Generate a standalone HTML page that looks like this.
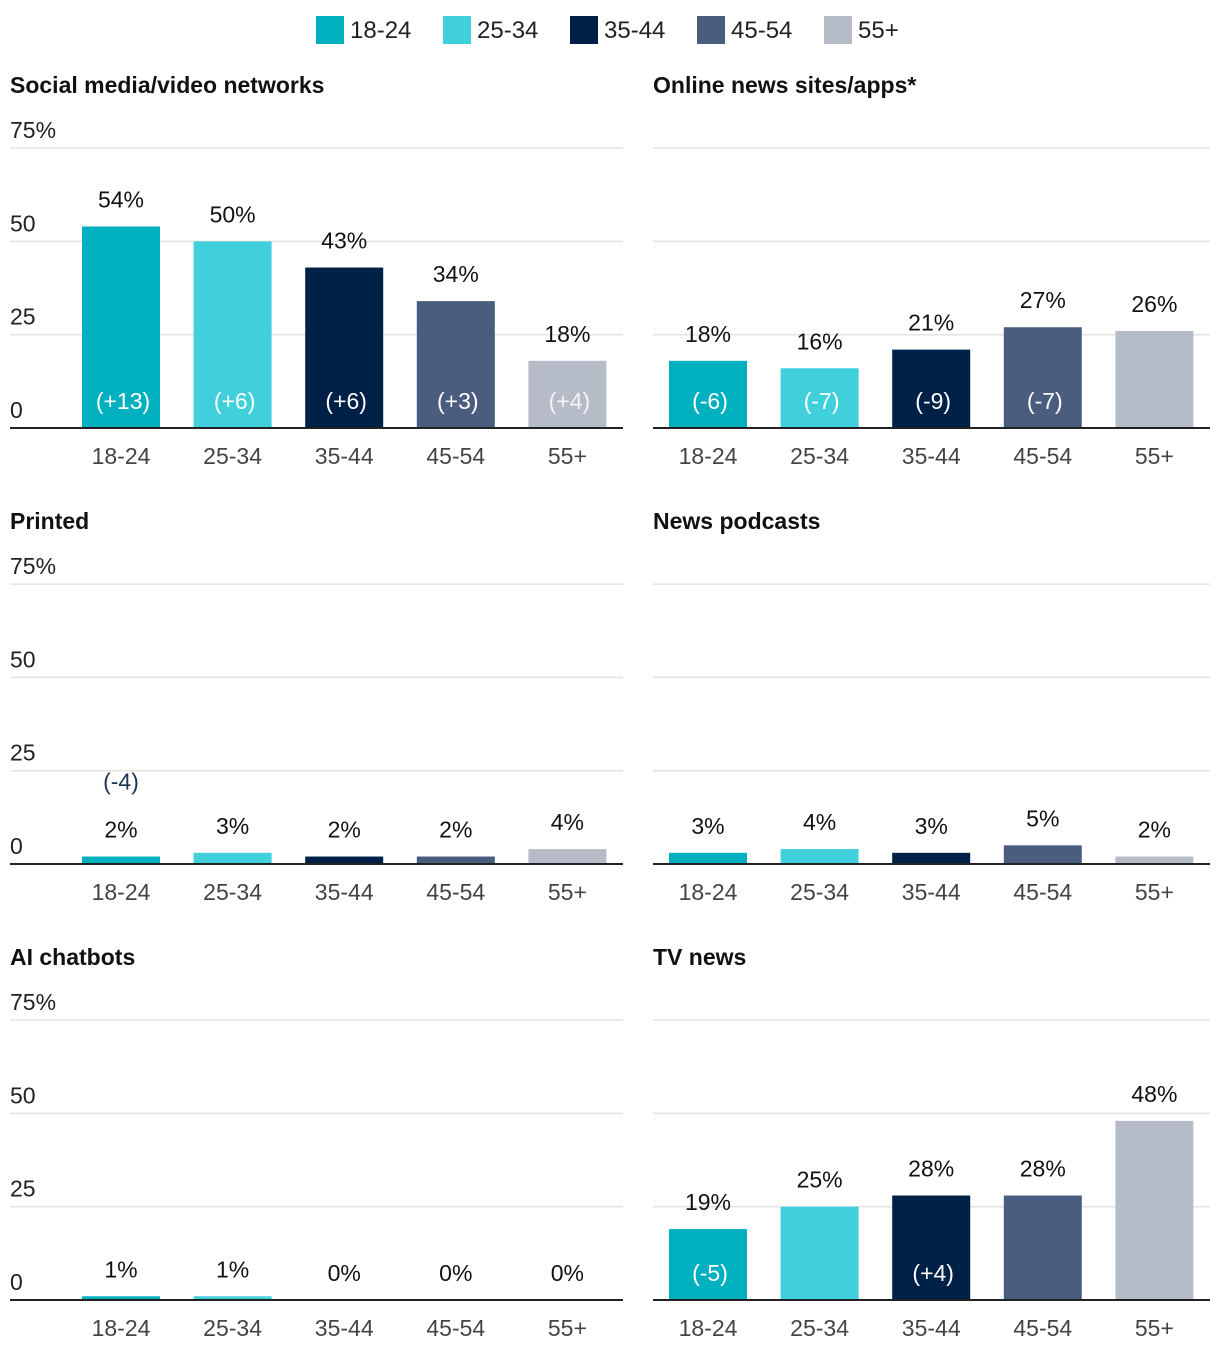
<!DOCTYPE html>
<html><head><meta charset="utf-8"><style>
body{margin:0;background:#fff;width:1220px;height:1358px;overflow:hidden;font-family:"Liberation Sans",sans-serif;}
svg text{font-family:"Liberation Sans",sans-serif;}
</style></head><body>
<svg id="chart" width="1220" height="1358" xmlns="http://www.w3.org/2000/svg"></svg>
<script>
const ageGroups=["18-24","25-34","35-44","45-54","55+"];
const colors=["#00b0bf","#40d0dc","#002147","#4a5d7e","#b5bcc8"];
const panelTitles=["Social media/video networks","Online news sites/apps*","Printed","News podcasts","AI chatbots","TV news"];
const socialValues=[54,50,43,34,18];
const socialChanges=["(+13)","(+6)","(+6)","(+3)","(+4)"];
const onlineValues=[18,16,21,27,26];
const onlineChanges=["(-6)","(-7)","(-9)","(-7)",""];
const printedValues=[2,3,2,2,4];
const printedChanges=["(-4)","","","",""];
const podcastValues=[3,4,3,5,2];
const podcastChanges=["","","","",""];
const aiValues=[1,1,0,0,0];
const aiChanges=["","","","",""];
const tvValues=[19,25,28,28,48];
const tvChanges=["(-5)","","(+4)","",""];
const yTicks=[0,25,50,75];
const yTickLabels=["0","25","50","75%"];
const panelValues=[socialValues,onlineValues,printedValues,podcastValues,aiValues,tvValues];
const panelChanges=[socialChanges,onlineChanges,printedChanges,podcastChanges,aiChanges,tvChanges];

const svg=document.getElementById('chart');
const NS="http://www.w3.org/2000/svg";
function mk(tag,attrs,txt){const e=document.createElementNS(NS,tag);for(const k in attrs)e.setAttribute(k,attrs[k]);if(txt!==undefined)e.textContent=txt;svg.appendChild(e);return e;}

const legX=[316,443,570,697,824];
ageGroups.forEach((g,i)=>{
  const r=mk('rect',{x:legX[i],y:16,width:28,height:28,fill:colors[i]});
  
  
  const t=mk('text',{x:legX[i]+34,y:38,'font-size':24,fill:'#222'},g);
  
  
});

const pxPerUnit=93.3/25;
panelTitles.forEach((title,p)=>{
  const col=p%2,row=Math.floor(p/2);
  const x0=col?653:10,x1=col?1210:623;
  const base=428+row*436;
  const off=row*436;
  const y=v=>base-v*pxPerUnit;
  const xc=i=>(col?708:121)+i*111.6;
  const tt=mk('text',{x:x0,y:93+off,'font-size':23,'font-weight':'bold',fill:'#111'},title);
  
  
  yTicks.forEach((v,k)=>{
    if(v>0){const gl=mk('line',{x1:x0,x2:x1,y1:y(v),y2:y(v),stroke:'#e3e3e3','stroke-width':1.5});
      
      }
    if(!col){const tl=mk('text',{x:10,y:y(v)-10,'font-size':23,fill:'#222'},yTickLabels[k]);
      
      }
  });
  const vals=panelValues[p],chg=panelChanges[p];
  vals.forEach((v,i)=>{
    const top=y(v);
    const b=mk('rect',{x:xc(i)-39,y:top,width:78,height:base-top,fill:colors[i]});
    
    
    const vl=mk('text',{x:xc(i),y:top-19,'font-size':23,'text-anchor':'middle',fill:'#111'},v+'%');
    
    
    if(chg[i]){
      const inside=(base-top)>40;
      const cl=mk('text',{x:xc(i)+(inside?2:0),y:inside?base-19:top-67,'font-size':23,'text-anchor':'middle',fill:inside?'#fff':'#1d3557','fill-opacity':inside&&i==4?0.85:1},chg[i]);
      
      
    }
    const xl=mk('text',{x:xc(i),y:base+36,'font-size':23,'text-anchor':'middle',fill:'#444'},ageGroups[i]);
    
    
  });
  const ax=mk('line',{x1:x0,x2:x1,y1:base,y2:base,stroke:'#222','stroke-width':2});
  
  
});
</script>
</body></html>
